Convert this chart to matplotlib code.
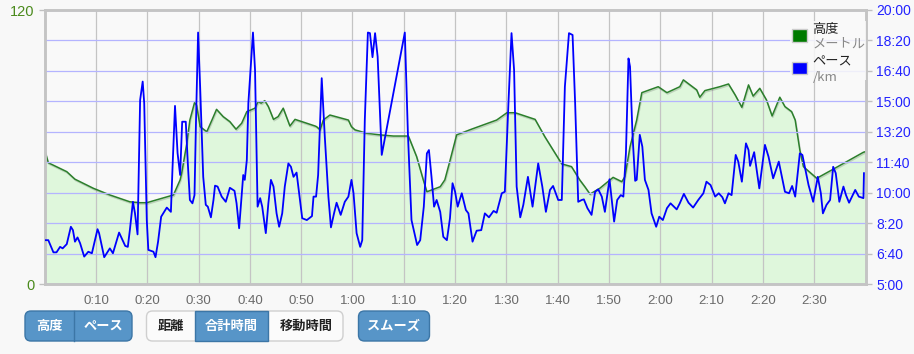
import matplotlib
matplotlib.use('Agg')
import numpy as np
from matplotlib import pyplot as plt
from matplotlib import patheffects as pe
from matplotlib.patches import FancyBboxPatch, Rectangle
from matplotlib.ticker import FuncFormatter

plt.rcParams['font.family'] = ['Liberation Sans', 'Noto Sans CJK JP', 'DejaVu Sans']

# --- Data ---
# elevation profile: elapsed time [min], altitude [m]
elev_t = [0.0, 0.7, 4.3, 5.9, 9.5, 12.7, 16.6, 18.6, 19.9, 25.1,
          26.4, 26.7, 27.7, 28.3, 29.2, 29.6, 30.3, 31.6, 32.6, 33.5,
          34.8, 36.1, 37.3, 38.4, 39.4, 41.0, 41.6, 42.2, 42.9, 43.6,
          44.6, 45.5, 46.5, 47.8, 48.8, 52.7, 53.0, 53.7, 54.3, 55.6,
          59.2, 59.8, 60.5, 62.8, 65.4, 68.0, 70.9, 72.5, 73.8, 74.5,
          77.1, 78.0, 79.0, 80.3, 83.2, 88.1, 90.1, 91.7, 95.6, 97.5,
          100.8, 102.7, 104.3, 105.3, 106.3, 108.2, 110.8, 112.5, 113.1, 114.1,
          115.4, 116.4, 119.6, 121.3, 123.8, 124.5, 127.1, 127.7, 128.7, 131.6,
          133.3, 134.6, 135.9, 137.2, 138.1, 139.4, 140.7, 141.8, 143.3, 144.3,
          145.6, 146.3, 147.2, 147.9, 150.5, 153.4, 159.6, 160.1]
elev_m = [58.7, 53.1, 49.2, 45.9, 41.9, 39.0, 36.0, 35.6, 35.6, 39.0,
          45.6, 48.5, 61.6, 71.8, 79.4, 78.4, 68.9, 66.7, 71.8, 76.5,
          73.3, 71.1, 67.8, 70.4, 75.5, 77.0, 79.9, 79.2, 80.3, 77.7,
          72.1, 73.3, 77.0, 69.2, 72.1, 69.2, 68.9, 67.5, 71.8, 74.0,
          71.8, 68.9, 67.5, 66.0, 65.3, 64.8, 64.8, 55.8, 45.6, 40.4,
          42.6, 45.6, 54.0, 65.3, 67.8, 71.8, 75.0, 75.0, 72.1, 64.5,
          52.6, 51.4, 45.6, 42.6, 39.4, 41.9, 46.7, 44.8, 47.0, 60.1,
          71.8, 83.8, 86.4, 83.8, 86.4, 89.4, 85.0, 81.8, 84.7, 86.4,
          87.6, 82.8, 77.4, 87.2, 82.3, 85.7, 80.6, 73.6, 81.8, 77.7,
          75.5, 71.8, 58.7, 51.4, 46.3, 49.9, 57.7, 58.0]

# pace: elapsed time [min], seconds per km
pace_t = [0.0, 0.7, 1.7, 2.3, 3.0, 3.5, 4.3, 5.1, 5.5, 5.9,
          6.4, 6.9, 7.7, 8.5, 9.2, 10.3, 10.6, 11.6, 12.7, 13.3,
          14.5, 15.7, 16.2, 16.6, 17.2, 17.6, 18.1, 18.6, 19.1, 19.4,
          19.9, 20.2, 21.2, 21.6, 22.1, 22.7, 23.8, 24.6, 24.9, 25.4,
          25.9, 26.4, 26.8, 27.5, 27.9, 28.3, 28.8, 29.2, 29.5, 29.9,
          30.3, 30.9, 31.4, 31.8, 32.4, 32.9, 33.2, 33.7, 34.5, 35.3,
          36.1, 37.0, 37.4, 37.9, 38.7, 39.0, 39.4, 39.7, 40.6, 41.0,
          41.5, 42.0, 42.4, 43.1, 43.6, 44.1, 44.6, 45.2, 45.7, 46.3,
          46.8, 47.5, 48.0, 48.5, 49.1, 49.6, 50.2, 51.1, 52.1, 52.4,
          52.9, 53.3, 54.0, 54.6, 55.3, 55.8, 56.4, 56.9, 57.7, 58.5,
          59.2, 59.8, 60.2, 60.8, 61.5, 61.9, 62.4, 63.0, 63.4, 63.9,
          64.4, 64.9, 65.7, 70.2, 70.8, 71.5, 72.6, 73.2, 73.9, 74.5,
          74.9, 75.4, 75.9, 76.4, 77.1, 77.7, 78.4, 79.0, 79.5, 80.0,
          80.5, 81.3, 82.1, 82.6, 83.4, 84.2, 85.1, 85.8, 86.6, 87.5,
          88.1, 89.1, 89.7, 90.4, 91.0, 91.5, 92.0, 92.7, 93.3, 94.2,
          95.1, 96.2, 97.0, 97.7, 98.5, 99.1, 100.1, 100.8, 101.4, 102.2,
          102.9, 103.4, 104.0, 104.7, 105.1, 105.8, 106.6, 107.3, 107.9, 108.6,
          109.2, 110.1, 111.0, 111.6, 112.3, 112.8, 113.3, 113.8, 114.1, 114.6,
          115.1, 115.4, 116.0, 116.5, 117.0, 117.7, 118.3, 119.2, 119.8, 120.5,
          121.3, 122.0, 123.2, 123.8, 124.6, 125.5, 126.4, 127.4, 128.4, 129.0,
          129.8, 130.7, 131.4, 132.1, 132.6, 133.3, 133.9, 134.7, 135.2, 135.9,
          136.7, 137.2, 137.5, 138.3, 138.8, 139.3, 140.4, 141.1, 142.0, 143.1,
          143.7, 144.3, 145.1, 145.7, 146.3, 147.2, 147.7, 148.9, 149.8, 150.7,
          151.3, 151.7, 152.4, 153.1, 153.7, 154.2, 154.9, 155.7, 156.2, 156.8,
          158.0, 158.7, 159.6, 159.7]
pace_s = [444, 444, 404, 404, 422, 417, 431, 488, 477, 439,
          453, 434, 390, 406, 401, 480, 467, 388, 417, 401,
          469, 425, 422, 477, 570, 532, 463, 904, 965, 894,
          510, 412, 406, 388, 439, 521, 551, 537, 674, 885,
          730, 658, 833, 833, 696, 576, 565, 592, 839, 1126,
          948, 652, 560, 554, 519, 576, 623, 620, 587, 570,
          616, 606, 565, 483, 658, 642, 707, 894, 1126, 1003,
          554, 582, 554, 467, 565, 642, 620, 532, 488, 532,
          620, 696, 685, 652, 666, 598, 516, 510, 523, 587,
          587, 658, 976, 784, 587, 486, 532, 567, 527, 570,
          587, 642, 598, 467, 422, 444, 839, 1126, 1124, 1045,
          1124, 1047, 724, 1126, 795, 510, 428, 444, 554, 729,
          740, 652, 554, 576, 537, 455, 444, 516, 631, 603,
          554, 598, 543, 532, 439, 475, 477, 532, 519, 540,
          534, 598, 603, 894, 1124, 1003, 620, 519, 560, 652,
          554, 696, 620, 537, 609, 622, 576, 576, 948, 1124,
          1118, 894, 570, 576, 578, 549, 527, 603, 611, 587,
          537, 644, 505, 576, 592, 587, 729, 1041, 1014, 784,
          639, 642, 790, 751, 642, 609, 532, 488, 521, 510,
          549, 565, 545, 565, 596, 567, 551, 576, 598, 636,
          625, 587, 598, 585, 565, 598, 592, 724, 702, 636,
          762, 740, 688, 733, 674, 614, 757, 718, 647, 702,
          652, 603, 598, 622, 587, 729, 724, 625, 570, 652,
          598, 532, 560, 576, 685, 664, 570, 620, 592, 567,
          609, 587, 582, 664]

time_ticks = [10, 20, 30, 40, 50, 60, 70, 80, 90, 100, 110, 120, 130, 140, 150]
elev_ticks = [0, 120]
pace_ticks = [300, 400, 500, 600, 700, 800, 900, 1000, 1100, 1200]

W, H = 914, 354
fig = plt.figure(figsize=(W / 100, H / 100), dpi=100, facecolor='#f8f8f8')
ax = fig.add_axes([44.7 / W, 70 / H, (866 - 44.7) / W, 274 / H])
ax.set_facecolor('#f9f9f9')

# --- Elevation ---
ax.fill_between(elev_t, elev_m, 0, color='#dff7dc', lw=0)
ax.plot(elev_t, elev_m, color='#2b7f2b', lw=1.1,
        path_effects=[pe.SimpleLineShadow(offset=(0.5, -1.0), alpha=0.15), pe.Normal()])
ax.set_xlim(0, 160.1)
ax.set_ylim(0, 120)
ax.set_yticks(elev_ticks)
ax.set_xticks(time_ticks)
ax.xaxis.set_major_formatter(FuncFormatter(lambda v, p: f'{int(v) // 60}:{int(v) % 60:02d}'))
ax.tick_params(axis='y', colors='#c0c0c0', labelcolor='#4a8a1c', labelsize=10.5, length=4, width=1)
ax.tick_params(axis='x', length=0, labelcolor='#6a6a6a', labelsize=9.5, pad=8)
ax.xaxis.grid(True, color='#c4c4c4', lw=0.9)

# --- Pace ---
ax2 = ax.twinx()
ax2.plot(pace_t, pace_s, color='#0000ff', lw=1.3, zorder=3)
ax2.set_ylim(300, 1200)
ax2.set_yticks(pace_ticks)
ax2.yaxis.set_major_formatter(FuncFormatter(lambda v, p: f'{int(round(v)) // 60}:{int(round(v)) % 60:02d}'))
ax2.tick_params(axis='y', colors='#c0c0c0', labelcolor='#2222ff', labelsize=10, length=4, width=1)
ax2.yaxis.grid(True, color='#b4b4ff', lw=0.9)

for a in (ax, ax2):
    for s in a.spines.values():
        s.set_color('#c4c4c4')
        s.set_linewidth(1.8)

# --- Legend ---
tr = ax2.transAxes
ax2.add_patch(Rectangle((0.907, 0.745), 0.093, 0.215, transform=tr, facecolor='#f9f9f9',
                        alpha=0.85, edgecolor='none', zorder=4))
for yy, col in [(0.885, '#007a00'), (0.765, '#0000ff')]:
    ax2.add_patch(Rectangle((0.91, yy), 0.018, 0.045, transform=tr, facecolor=col,
                            edgecolor='#cccccc', lw=1, zorder=5))
leg_kw = dict(transform=tr, fontsize=9.5, zorder=6, va='center', ha='left',
              family=['Noto Sans CJK JP', 'Liberation Sans'])
ax2.text(0.935, 0.93, '高度', color='#222222', **leg_kw)
ax2.text(0.935, 0.875, 'メートル', color='#888888', **leg_kw)
ax2.text(0.935, 0.81, 'ペース', color='#222222', **leg_kw)
ax2.text(0.935, 0.755, '/km', color='#888888', **leg_kw)

# --- Buttons ---
bax = fig.add_axes([0, 0, 1, 1], zorder=-1)
bax.set_xlim(0, W)
bax.set_ylim(H, 0)
bax.axis('off')
blue, blue_edge = '#5795c8', '#3c76a6'
btn_kw = dict(fontsize=9.5, fontweight='bold', ha='center', va='center',
              family=['Noto Sans CJK JP', 'DejaVu Sans'])

bax.add_patch(FancyBboxPatch((25, 311), 107, 30, boxstyle='round,pad=0,rounding_size=6',
                             facecolor=blue, edgecolor=blue_edge, lw=1))
bax.plot([73.5, 73.5], [311, 341], color=blue_edge, lw=1)
bax.text(49, 326, '高度', color='white', **btn_kw)
bax.text(103, 326, 'ペース', color='white', **btn_kw)

bax.add_patch(FancyBboxPatch((146.5, 311), 196.5, 30, boxstyle='round,pad=0,rounding_size=6',
                             facecolor='#fbfbfb', edgecolor='#cfcfcf', lw=1))
bax.add_patch(Rectangle((195, 311), 73, 30, facecolor=blue, edgecolor=blue_edge, lw=1))
bax.text(171, 326, '距離', color='#222222', **btn_kw)
bax.text(231.5, 326, '合計時間', color='white', **btn_kw)
bax.text(306, 326, '移動時間', color='#222222', **btn_kw)

bax.add_patch(FancyBboxPatch((358.5, 311), 71, 30, boxstyle='round,pad=0,rounding_size=6',
                             facecolor=blue, edgecolor=blue_edge, lw=1))
bax.text(394, 326, 'スムーズ', color='white', **btn_kw)

fig.savefig('out.png', dpi=100, facecolor=fig.get_facecolor())
